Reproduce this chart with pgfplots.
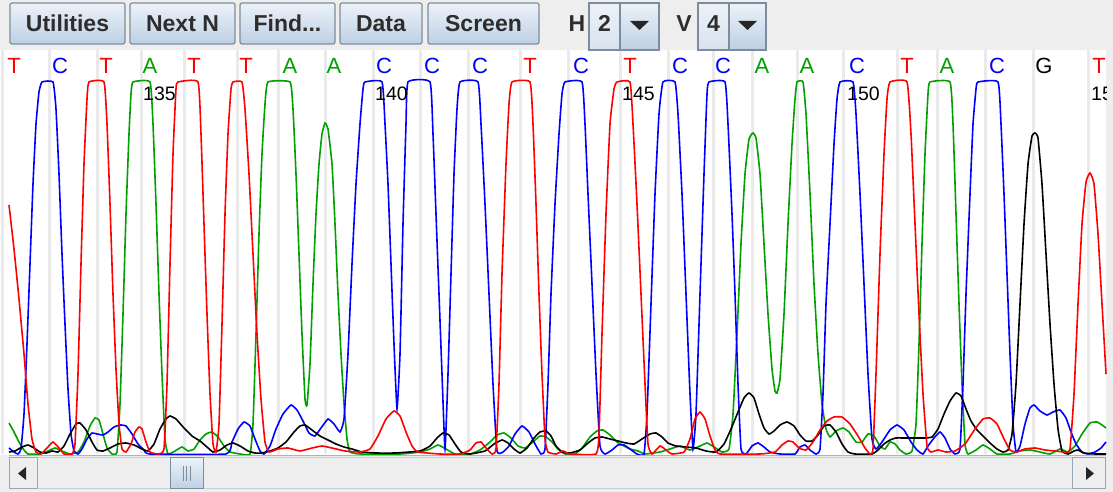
\documentclass[border=0pt]{standalone}
\usepackage{pgfplots}
\pgfplotsset{compat=1.18}
\usepackage{fontspec}
\setmainfont{Liberation Sans}
\definecolor{tred}{RGB}{255,0,0}
\definecolor{tblue}{RGB}{0,0,255}
\definecolor{tgreen}{RGB}{0,160,0}
\definecolor{tbg}{RGB}{238,238,238}
\definecolor{gridc}{RGB}{234,234,234}
\definecolor{btnT}{RGB}{236,242,248}
\definecolor{btnB}{RGB}{190,208,228}
\definecolor{btnE}{RGB}{125,140,158}
\definecolor{txt}{RGB}{45,45,45}
\newcommand\btn[3]{%
  \draw[btnE,line width=1.2pt,rounded corners=2pt,top color=btnT,bottom color=btnB] (axis cs:#1,451) rectangle (axis cs:#2,410);
  \node[font=\bfseries\fontsize{23}{23}\selectfont,text=txt] at (axis cs:{(#1+#2)/2},430.5) {#3};}
\newcommand\base[3]{\node[font=\fontsize{22}{22}\selectfont,text=#3] at (axis cs:#1,388) {#2};}
\newcommand\pos[2]{\node[font=\fontsize{19.5}{19.5}\selectfont,anchor=west,inner sep=0pt] at (axis cs:#1,360) {#2};}
\begin{document}
\begin{tikzpicture}
\begin{axis}[width=1113pt,height=492pt,scale only axis,xmin=0,xmax=1113,ymin=-38,ymax=454,
  axis lines=none,clip=false,no markers]
% backgrounds
\fill[white] (axis cs:0,-38) rectangle (axis cs:1113,454);
\fill[tbg] (axis cs:0,404) rectangle (axis cs:1113,454);
\fill[tbg] (axis cs:0,-38) rectangle (axis cs:1113,-1);
\fill[tbg] (axis cs:1106,-38) rectangle (axis cs:1113,454);
% base-call grid lines
\addplot[ycomb,color=gridc,line width=3pt] coordinates {
(2,404) (49,404) (97,404) (141,404) (184,404) (237,404) (278,404) (325,404)
(373,404) (420,404) (468,404) (520,404) (568,404) (620,404) (668,404) (713,404)
(752,404) (797,404) (843,404) (897,404) (937,404) (985,404) (1033,404) (1088,404)};
% traces
\addplot[tgreen,line width=1.6pt,smooth,tension=0.25] coordinates {
(9,31) (14,22) (19,12) (24,4) (28,0) (40,0) (48,3) (55,6) (62,3) (70,0) (78,2) (84,12) (90,28) (95,36) (99,34) (103,20) (107,6) (112,0) (117,2) (120,50) (123,140) (126,240) (129,320) (131,360) (133,372) (150,372) (153,330) (156,250) (159,160) (162,80) (165,15) (168,0) (175,3) (182,7) (188,3) (194,5) (200,14) (206,20) (212,22) (218,17) (224,8) (230,2) (240,0) (250,0) (253,30) (256,120) (259,220) (262,300) (265,350) (268,372) (290,372) (293,345) (296,280) (299,200) (302,120) (305,55) (307,49) (310,90) (313,170) (316,240) (319,290) (322,320) (325,331) (328,325) (332,290) (335,230) (338,160) (341,100) (344,50) (347,15) (350,2) (360,0) (400,0) (420,2) (430,5) (438,9) (446,5) (455,0) (470,0) (480,4) (490,12) (497,19) (504,21) (511,16) (518,8) (525,6) (533,12) (540,18) (546,17) (552,12) (558,5) (565,0) (575,0) (582,6) (590,17) (597,23) (603,24) (610,19) (617,12) (624,8) (630,5) (638,3) (645,0) (660,2) (670,5) (680,8) (690,4) (700,8) (707,11) (714,7) (722,2) (729,5) (733,40) (737,120) (741,210) (745,280) (749,315) (753,321) (756,316) (760,280) (764,210) (768,140) (772,85) (775,63) (777,61) (780,75) (784,140) (788,230) (792,310) (795,355) (797,372) (803,372) (806,340) (810,260) (814,170) (818,100) (822,50) (826,25) (830,17) (836,23) (843,26) (849,22) (856,12) (862,12) (868,20) (874,18) (880,8) (885,5) (890,12) (895,10) (900,4) (906,0) (912,3) (916,30) (919,110) (922,210) (925,300) (928,360) (930,372) (950,372) (953,330) (956,240) (959,150) (962,70) (965,10) (968,0) (976,4) (983,9) (990,5) (997,0) (1010,0) (1020,3) (1030,4) (1040,2) (1050,0) (1060,5) (1068,2) (1075,8) (1082,20) (1090,31) (1097,32) (1102,29) (1106,26)};
\addplot[tblue,line width=1.6pt,smooth,tension=0.25] coordinates {
(9,6) (14,2) (18,0) (21,5) (24,40) (27,110) (30,190) (33,270) (36,330) (39,362) (42,372) (53,372) (56,345) (59,280) (62,200) (65,130) (68,65) (71,20) (74,3) (78,0) (82,5) (87,15) (92,21) (97,20) (103,19) (108,22) (114,27) (120,29) (126,28) (132,20) (138,10) (144,4) (150,0) (226,0) (232,12) (238,25) (244,32) (250,28) (255,15) (260,3) (264,0) (270,8) (276,25) (283,40) (291,49) (297,44) (303,33) (309,21) (315,18) (321,26) (328,35) (334,30) (340,22) (344,35) (348,100) (352,190) (356,270) (360,330) (363,365) (365,372) (382,372) (385,330) (388,270) (391,190) (394,110) (397,45) (400,100) (403,230) (406,330) (408,372) (430,372) (433,320) (436,240) (439,160) (442,80) (445,5) (448,80) (451,180) (454,280) (457,345) (460,372) (478,372) (481,330) (485,250) (489,160) (493,70) (497,3) (503,2) (509,8) (515,20) (522,28) (529,22) (535,10) (541,0) (545,5) (548,70) (551,160) (555,250) (559,320) (562,360) (565,372) (582,372) (585,330) (588,260) (592,170) (596,80) (600,8) (605,0) (612,4) (618,9) (624,9) (630,5) (637,0) (644,0) (647,40) (651,150) (655,260) (659,340) (663,372) (675,372) (678,340) (682,260) (686,160) (690,60) (693,5) (696,40) (700,160) (704,280) (707,360) (709,372) (725,372) (728,330) (732,240) (735,160) (738,70) (741,5) (746,0) (752,8) (758,11) (764,7) (770,2) (780,0) (795,0) (800,7) (805,9) (810,4) (816,0) (820,5) (823,60) (826,150) (830,230) (834,310) (837,355) (840,372) (853,372) (856,340) (860,260) (864,170) (868,80) (872,15) (876,5) (882,12) (890,24) (897,29) (904,24) (911,12) (917,4) (923,0) (928,8) (934,16) (940,22) (945,16) (950,5) (955,0) (960,5) (963,70) (966,160) (970,260) (973,330) (976,365) (978,372) (998,372) (1001,330) (1004,260) (1007,180) (1010,100) (1013,30) (1016,2) (1020,8) (1025,30) (1030,46) (1034,49) (1040,43) (1047,39) (1053,42) (1060,44) (1066,36) (1071,22) (1076,10) (1082,2) (1088,0) (1095,2) (1101,6) (1106,12)};
\addplot[black,line width=1.6pt,smooth,tension=0.25] coordinates {
(9,2) (15,3) (22,7) (28,9) (34,6) (40,2) (46,1) (52,3) (58,2) (64,8) (70,20) (76,30) (80,31) (86,24) (92,12) (97,4) (103,3) (110,6) (118,10) (126,11) (134,9) (142,5) (148,3) (154,10) (160,25) (166,35) (170,38) (176,35) (184,26) (192,18) (200,13) (207,7) (213,2) (220,4) (227,9) (233,11) (240,8) (248,3) (255,1) (262,1) (270,3) (278,6) (286,12) (294,22) (300,28) (305,29) (312,24) (320,18) (328,14) (336,10) (344,7) (352,5) (362,2) (375,1) (395,1) (420,3) (430,8) (437,16) (443,21) (449,19) (455,10) (461,2) (470,0) (485,3) (494,10) (502,14) (508,11) (514,5) (520,1) (527,6) (534,16) (540,22) (546,23) (551,18) (556,8) (562,2) (570,1) (580,4) (588,11) (595,16) (602,17) (610,15) (618,13) (626,11) (634,10) (642,15) (650,20) (656,21) (662,17) (668,11) (676,8) (686,7) (696,6) (706,3) (716,2) (724,10) (731,25) (738,42) (744,56) (749,61) (754,56) (759,40) (764,26) (769,20) (774,23) (780,29) (787,32) (794,28) (800,19) (806,13) (812,13) (818,19) (824,28) (830,29) (836,22) (842,10) (848,2) (855,0) (872,0) (878,4) (884,10) (890,14) (896,16) (905,16) (915,16) (925,16) (932,17) (938,25) (944,40) (950,53) (956,61) (961,58) (966,45) (971,33) (977,24) (983,18) (990,11) (997,5) (1003,2) (1008,4) (1012,20) (1016,70) (1020,150) (1024,230) (1028,290) (1032,318) (1035,321) (1038,316) (1042,270) (1046,200) (1050,130) (1054,70) (1058,25) (1062,3) (1068,0) (1074,3) (1078,4) (1084,1) (1095,0) (1106,0)};
\addplot[tred,line width=1.6pt,smooth,tension=0.25] coordinates {
(9,249) (14,205) (19,155) (24,100) (28,50) (32,15) (36,2) (41,0) (47,6) (53,12) (59,6) (64,0) (72,0) (75,10) (78,80) (81,190) (84,290) (87,355) (89,372) (104,372) (107,330) (110,250) (113,160) (116,85) (119,30) (122,5) (126,2) (131,10) (135,22) (139,27) (142,25) (146,12) (150,2) (158,0) (164,5) (167,70) (170,190) (173,300) (176,365) (178,372) (198,372) (201,320) (204,230) (207,140) (210,60) (213,10) (216,2) (219,30) (222,130) (225,240) (228,320) (231,365) (233,372) (242,372) (245,345) (249,280) (253,200) (257,120) (261,55) (265,12) (269,2) (278,5) (288,6) (300,3) (312,6) (322,8) (332,6) (345,3) (360,2) (370,5) (378,18) (386,35) (394,43) (400,38) (406,22) (412,8) (418,2) (440,0) (460,0) (470,4) (476,11) (481,12) (486,6) (492,0) (496,5) (499,70) (502,180) (506,290) (509,350) (512,372) (530,372) (533,330) (536,250) (539,160) (542,80) (545,15) (548,2) (556,0) (563,3) (570,0) (596,0) (599,20) (602,120) (606,240) (610,330) (614,365) (617,372) (630,372) (633,330) (637,250) (641,160) (645,70) (648,10) (652,0) (660,8) (666,4) (672,0) (684,2) (690,15) (695,35) (700,42) (705,35) (710,18) (715,4) (720,0) (760,0) (775,2) (782,9) (788,13) (793,12) (799,6) (806,4) (813,12) (820,24) (827,33) (834,37) (842,37) (850,30) (858,18) (865,6) (870,0) (873,5) (876,80) (880,200) (884,300) (887,355) (890,372) (907,372) (911,320) (915,230) (919,140) (923,60) (927,8) (931,2) (938,4) (946,2) (955,3) (965,10) (975,25) (983,35) (990,36) (997,30) (1004,15) (1010,4) (1016,2) (1025,5) (1035,6) (1045,4) (1055,3) (1065,2) (1070,5) (1074,60) (1078,150) (1082,230) (1086,272) (1090,281) (1094,270) (1098,220) (1102,150) (1106,80)};
% base letters
\base{14}{T}{tred}\base{60}{C}{tblue}\base{106}{T}{tred}\base{150}{A}{tgreen}
\base{194}{T}{tred}\base{246}{T}{tred}\base{290}{A}{tgreen}\base{334}{A}{tgreen}
\base{384}{C}{tblue}\base{432}{C}{tblue}\base{480}{C}{tblue}\base{530}{T}{tred}
\base{581}{C}{tblue}\base{630}{T}{tred}\base{680}{C}{tblue}\base{723}{C}{tblue}
\base{762}{A}{tgreen}\base{807}{A}{tgreen}\base{857}{C}{tblue}\base{907}{T}{tred}
\base{947}{A}{tgreen}\base{997}{C}{tblue}\base{1044}{G}{black}
\begin{scope}
\clip (axis cs:1080,300) rectangle (axis cs:1106,404);
\base{1099}{T}{tred}
\pos{1091}{155}
\end{scope}
% positions
\pos{143}{135}\pos{375}{140}\pos{622}{145}\pos{847}{150}
% toolbar
\btn{10}{125}{Utilities}\btn{130}{235}{Next N}\btn{240}{335}{Find...}
\btn{340}{422}{Data}\btn{428}{539}{Screen}
\node[font=\bfseries\fontsize{23}{23}\selectfont,text=txt] at (axis cs:577,430.5) {H};
\draw[btnE,line width=1.2pt,top color=btnT,bottom color=btnB!60] (axis cs:589,451) rectangle (axis cs:620,404);
\node[font=\bfseries\fontsize{23}{23}\selectfont,text=txt] at (axis cs:604.5,430.5) {2};
\draw[btnE,line width=1.2pt,top color=btnT,bottom color=btnB] (axis cs:620,451) rectangle (axis cs:659,404);
\fill[black!85] (axis cs:630,433) -- (axis cs:649,433) -- (axis cs:639.5,424) -- cycle;
\node[font=\bfseries\fontsize{23}{23}\selectfont,text=txt] at (axis cs:684,430.5) {V};
\draw[btnE,line width=1.2pt,top color=btnT,bottom color=btnB!60] (axis cs:698,451) rectangle (axis cs:729,404);
\node[font=\bfseries\fontsize{23}{23}\selectfont,text=txt] at (axis cs:713.5,430.5) {4};
\draw[btnE,line width=1.2pt,top color=btnT,bottom color=btnB] (axis cs:729,451) rectangle (axis cs:766,404);
\fill[black!85] (axis cs:738,433) -- (axis cs:757,433) -- (axis cs:747.5,424) -- cycle;
% scrollbar
\draw[gray!60,line width=1pt] (axis cs:9,-1.5) -- (axis cs:1106,-1.5);
\draw[btnB,line width=1pt,fill=tbg] (axis cs:37,-4) rectangle (axis cs:1072,-35);
\draw[btnB!80!black,line width=1pt,fill=tbg] (axis cs:9,-4) rectangle (axis cs:37,-35);
\fill[black!85] (axis cs:18,-19.5) -- (axis cs:26,-13) -- (axis cs:26,-26) -- cycle;
\draw[btnB!80!black,line width=1pt,fill=tbg] (axis cs:1072,-4) rectangle (axis cs:1105,-35);
\fill[black!85] (axis cs:1094,-19.5) -- (axis cs:1086,-13) -- (axis cs:1086,-26) -- cycle;
\draw[btnE,line width=1pt,top color=btnT,bottom color=btnB] (axis cs:170,-4) rectangle (axis cs:203,-35);
\draw[btnE,line width=0.8pt] (axis cs:183,-12) -- (axis cs:183,-27) (axis cs:186.5,-12) -- (axis cs:186.5,-27) (axis cs:190,-12) -- (axis cs:190,-27);
\end{axis}
\end{tikzpicture}
\end{document}
